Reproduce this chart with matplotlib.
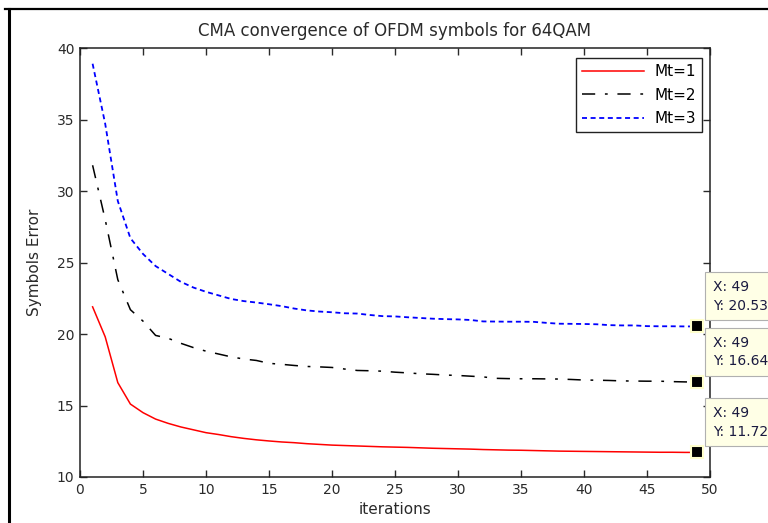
import matplotlib
matplotlib.use("Agg")
import matplotlib.pyplot as plt
from matplotlib.lines import Line2D

plt.rcParams['font.family'] = ['DejaVu Sans']
plt.rcParams['lines.scale_dashes'] = False

# ---------------- data ----------------
iterations = list(range(1, 50))

mt1 = [21.9, 19.8, 16.6, 15.1, 14.5, 14.05, 13.75, 13.5, 13.3, 13.1,
       12.97, 12.82, 12.7, 12.6, 12.52, 12.45, 12.4, 12.33, 12.28, 12.23,
       12.2, 12.17, 12.14, 12.11, 12.09, 12.07, 12.04, 12.01, 11.99, 11.97,
       11.95, 11.92, 11.9, 11.88, 11.87, 11.85, 11.83, 11.81, 11.8, 11.79,
       11.78, 11.77, 11.76, 11.75, 11.74, 11.73, 11.73, 11.72, 11.72]

mt2 = [31.8, 28.0, 23.8, 21.7, 20.9, 19.9, 19.7, 19.35, 19.05, 18.8,
       18.6, 18.4, 18.25, 18.15, 17.95, 17.88, 17.8, 17.73, 17.7, 17.66,
       17.55, 17.45, 17.43, 17.4, 17.33, 17.28, 17.22, 17.18, 17.13, 17.1,
       17.05, 17.0, 16.9, 16.88, 16.87, 16.87, 16.86, 16.85, 16.82, 16.78,
       16.77, 16.75, 16.72, 16.71, 16.7, 16.7, 16.67, 16.65, 16.64]

mt3 = [38.9, 34.7, 29.3, 26.7, 25.6, 24.75, 24.2, 23.65, 23.25, 22.95,
       22.7, 22.45, 22.3, 22.2, 22.08, 21.95, 21.78, 21.65, 21.57, 21.52,
       21.45, 21.43, 21.33, 21.25, 21.23, 21.17, 21.12, 21.07, 21.04, 21.02,
       20.98, 20.88, 20.87, 20.86, 20.86, 20.85, 20.78, 20.72, 20.71, 20.7,
       20.68, 20.62, 20.6, 20.6, 20.55, 20.54, 20.54, 20.53, 20.53]

series_labels = ['Mt=1', 'Mt=2', 'Mt=3']
xticks = list(range(0, 51, 5))
yticks = list(range(10, 41, 5))
tip_x = 49

# ---------------- figure ----------------
W, H = 768, 523
fig = plt.figure(figsize=(W / 100, H / 100), dpi=100)
L, R, T, B = 80, 710, 48, 477
ax = fig.add_axes([L / W, 1 - B / H, (R - L) / W, (B - T) / H])

txt = '#2a2a2a'
ax.plot(iterations, mt1, color='#ff0000', lw=1.1, label=series_labels[0])
ax.plot(iterations, mt2, color='black', lw=1.1, dashes=(9.5, 7, 2, 7),
        label=series_labels[1])
ax.plot(iterations, mt3, color='#0000ff', lw=1.3, dashes=(3.6, 2.6),
        label=series_labels[2])

ax.set_xlim(0, 50)
ax.set_ylim(10, 40)
ax.set_xticks(xticks)
ax.set_yticks(yticks)
ax.tick_params(direction='in', length=5, width=1, top=True, right=True,
               labelsize=10, colors=txt, pad=4)
for s in ax.spines.values():
    s.set_linewidth(1.1)
    s.set_color('#222222')

ax.set_title('CMA convergence of OFDM symbols for 64QAM', fontsize=12,
             color=txt, pad=9)
ax.set_xlabel('iterations', fontsize=11, color=txt, labelpad=4)
ax.set_ylabel('Symbols Error', fontsize=11, color=txt, labelpad=11)

leg = ax.legend(loc='upper right', bbox_to_anchor=(0.9875, 0.977),
                fontsize=11, frameon=True, fancybox=False, framealpha=1,
                edgecolor='#222222', handlelength=4.1, borderpad=0.4,
                labelspacing=0.56, handletextpad=0.65, borderaxespad=0)
leg.get_frame().set_linewidth(1.0)

# data tips
for yv in (mt1[-1], mt2[-1], mt3[-1]):
    ax.plot([tip_x], [yv], marker='s', markersize=8.5, color='black',
            markeredgecolor='#ffffcc', markeredgewidth=1.5, clip_on=False,
            zorder=5)
    ax.annotate('X: %d\nY: %.2f' % (tip_x, yv), xy=(tip_x, yv),
                xytext=(11, 10), textcoords='offset points', ha='left',
                va='bottom', fontsize=10, color='#1a1a40',
                linespacing=1.4, annotation_clip=False, zorder=6,
                bbox=dict(boxstyle='square,pad=0.55', fc='#ffffe6',
                          ec='#b0b0b0', lw=0.8))

# screenshot-style frame lines
fig.add_artist(Line2D([5 / W, 1], [1 - 9 / H, 1 - 9 / H],
                      transform=fig.transFigure, color='black', lw=1.6))
fig.add_artist(Line2D([8.5 / W, 8.5 / W], [0, 1 - 9 / H],
                      transform=fig.transFigure, color='black', lw=2.2))

fig.savefig('out.png', dpi=100)
